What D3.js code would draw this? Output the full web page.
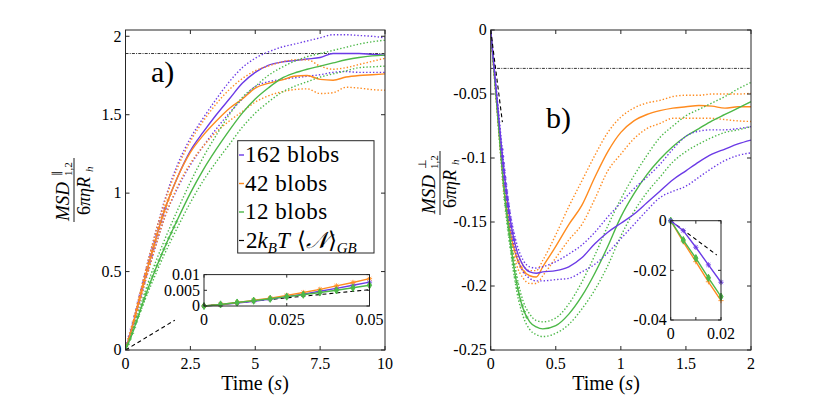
<!DOCTYPE html>
<html>
<head>
<meta charset="utf-8">
<script src="https://cdn.jsdelivr.net/npm/d3@7"></script>
<style>
  body { margin: 0; background: #fff; }
  svg { display: block; }
  #mainsvg text { font-family: "Times New Roman", "Liberation Serif", Times; }
</style>
</head>
<body>
<svg id="mainsvg" width="830" height="399"></svg>
<script>
// ---------- data ----------
const colPurple = "#6b3ae6";
const colOrange = "#ff8b1f";
const colGreen = "#4cb848";

// panel a: parallel MSD
const tA = [0, 0.25, 0.5, 0.75, 1, 1.5, 2, 2.5, 3, 3.5, 4, 4.5, 5, 5.5, 6, 6.5, 7, 7.5, 8, 8.5, 9, 9.5, 10];
const aPurple    = [0, 0.14, 0.30, 0.46, 0.61, 0.89, 1.10, 1.27, 1.39, 1.50, 1.60, 1.70, 1.77, 1.815, 1.835, 1.845, 1.855, 1.865, 1.89, 1.89, 1.89, 1.885, 1.88];
const aPurpleHi  = [0, 0.15, 0.32, 0.49, 0.65, 0.95, 1.18, 1.35, 1.48, 1.60, 1.71, 1.80, 1.86, 1.90, 1.93, 1.95, 1.97, 1.99, 2.01, 2.01, 2.005, 2.0, 1.99];
const aPurpleLo  = [0, 0.13, 0.28, 0.43, 0.57, 0.84, 1.03, 1.18, 1.30, 1.41, 1.51, 1.60, 1.68, 1.71, 1.725, 1.735, 1.745, 1.755, 1.77, 1.775, 1.77, 1.77, 1.77];
const aOrange    = [0, 0.14, 0.30, 0.46, 0.61, 0.89, 1.10, 1.26, 1.37, 1.46, 1.54, 1.60, 1.67, 1.70, 1.72, 1.745, 1.75, 1.725, 1.72, 1.74, 1.75, 1.755, 1.76];
const aOrangeHi  = [0, 0.15, 0.32, 0.49, 0.65, 0.94, 1.16, 1.33, 1.46, 1.57, 1.66, 1.73, 1.78, 1.81, 1.835, 1.85, 1.85, 1.81, 1.79, 1.80, 1.82, 1.84, 1.86];
const aOrangeLo  = [0, 0.13, 0.28, 0.43, 0.57, 0.84, 1.04, 1.19, 1.30, 1.39, 1.46, 1.52, 1.58, 1.62, 1.645, 1.66, 1.665, 1.635, 1.64, 1.675, 1.67, 1.66, 1.656];
const aGreen     = [0, 0.10, 0.22, 0.34, 0.45, 0.65, 0.83, 1.00, 1.15, 1.28, 1.40, 1.51, 1.60, 1.67, 1.73, 1.765, 1.79, 1.81, 1.83, 1.85, 1.865, 1.875, 1.88];
const aGreenHi   = [0, 0.11, 0.24, 0.37, 0.49, 0.70, 0.89, 1.07, 1.23, 1.37, 1.50, 1.61, 1.68, 1.75, 1.80, 1.84, 1.87, 1.89, 1.91, 1.93, 1.95, 1.965, 1.975];
const aGreenLo   = [0, 0.10, 0.21, 0.32, 0.42, 0.61, 0.78, 0.94, 1.08, 1.20, 1.31, 1.42, 1.51, 1.58, 1.64, 1.68, 1.71, 1.74, 1.76, 1.78, 1.80, 1.805, 1.81];
const aDashT = [0, 1.9];
const aDashV = [0, 0.19];
const aPlateau = 1.89;

// inset a
const tInA = [0, 0.005, 0.01, 0.015, 0.02, 0.025, 0.03, 0.035, 0.04, 0.045, 0.05];
const inAPurple = [0, 0.0004, 0.0009, 0.0015, 0.0022, 0.0030, 0.0038, 0.0047, 0.0056, 0.0066, 0.0076];
const inAOrange = [0, 0.0005, 0.0011, 0.0018, 0.0025, 0.0034, 0.0043, 0.0053, 0.0064, 0.0075, 0.0087];
const inAGreen  = [0, 0.0005, 0.0011, 0.0017, 0.0023, 0.0030, 0.0036, 0.0043, 0.0050, 0.0058, 0.0066];
const inADashT = [0, 0.05];
const inADashV = [0, 0.0052];

// panel b: perpendicular MSD
const tB = [0, 0.05, 0.1, 0.15, 0.2, 0.25, 0.3, 0.35, 0.4, 0.5, 0.6, 0.7, 0.8, 0.9, 1.0, 1.1, 1.2, 1.3, 1.4, 1.5, 1.6, 1.7, 1.8, 1.9, 2.0];
const bPurple   = [0, -0.055, -0.108, -0.148, -0.172, -0.184, -0.189, -0.190, -0.189, -0.188, -0.185, -0.178, -0.167, -0.158, -0.151, -0.144, -0.135, -0.126, -0.117, -0.110, -0.103, -0.097, -0.093, -0.089, -0.086];
const bPurpleHi = [0, -0.053, -0.104, -0.143, -0.167, -0.180, -0.185, -0.186, -0.185, -0.181, -0.175, -0.168, -0.158, -0.146, -0.135, -0.124, -0.115, -0.105, -0.093, -0.083, -0.079, -0.078, -0.078, -0.077, -0.0755];
const bPurpleLo = [0, -0.057, -0.112, -0.153, -0.177, -0.189, -0.194, -0.196, -0.196, -0.195, -0.194, -0.189, -0.183, -0.174, -0.163, -0.152, -0.141, -0.131, -0.126, -0.122, -0.115, -0.108, -0.102, -0.098, -0.096];
const bOrange   = [0, -0.062, -0.120, -0.158, -0.178, -0.188, -0.192, -0.193, -0.185, -0.169, -0.152, -0.137, -0.115, -0.095, -0.080, -0.071, -0.066, -0.063, -0.061, -0.060, -0.059, -0.0595, -0.061, -0.060, -0.060];
const bOrangeHi = [0, -0.060, -0.115, -0.153, -0.173, -0.184, -0.188, -0.188, -0.180, -0.160, -0.138, -0.118, -0.098, -0.080, -0.068, -0.061, -0.057, -0.055, -0.052, -0.051, -0.051, -0.050, -0.050, -0.050, -0.0495];
const bOrangeLo = [0, -0.064, -0.124, -0.163, -0.184, -0.194, -0.198, -0.198, -0.192, -0.178, -0.164, -0.152, -0.132, -0.110, -0.097, -0.085, -0.077, -0.073, -0.069, -0.069, -0.069, -0.069, -0.070, -0.071, -0.0715];
const bGreen    = [0, -0.062, -0.122, -0.165, -0.198, -0.218, -0.228, -0.232, -0.2335, -0.231, -0.222, -0.208, -0.190, -0.169, -0.146, -0.128, -0.113, -0.101, -0.091, -0.083, -0.077, -0.071, -0.066, -0.061, -0.056];
const bGreenHi  = [0, -0.060, -0.118, -0.160, -0.192, -0.212, -0.222, -0.227, -0.228, -0.225, -0.214, -0.197, -0.176, -0.153, -0.132, -0.114, -0.098, -0.084, -0.075, -0.067, -0.062, -0.057, -0.052, -0.046, -0.041];
const bGreenLo  = [0, -0.064, -0.126, -0.170, -0.204, -0.224, -0.234, -0.238, -0.2395, -0.237, -0.230, -0.218, -0.203, -0.184, -0.161, -0.142, -0.127, -0.115, -0.103, -0.095, -0.089, -0.084, -0.080, -0.078, -0.0755];
const bDashT = [0, 0.09];
const bDashV = [0, -0.072];
const bPlateau = -0.03;

// inset b
const tInB = [0, 0.005, 0.01, 0.015, 0.02];
const inBPurple = [0, -0.0040, -0.0107, -0.0178, -0.0248];
const inBOrange = [0, -0.0085, -0.0165, -0.0246, -0.0322];
const inBGreen  = [0, -0.0078, -0.0151, -0.0230, -0.0306];
const inBDashT = [0, 0.0183];
const inBDashV = [0, -0.0138];

const legendLabels = ["162 blobs", "42 blobs", "12 blobs"];

// tick values
const aXTicks = [0, 2.5, 5, 7.5, 10];
const aYTicks = [0, 0.5, 1, 1.5, 2];
const bXTicks = [0, 0.5, 1, 1.5, 2];
const bYTicks = [-0.25, -0.2, -0.15, -0.1, -0.05, 0];
const inAXTicks = [0, 0.025, 0.05];
const inAYTicks = [0, 0.005, 0.01];
const inBXTicks = [0, 0.01, 0.02];
const inBYTicks = [-0.04, -0.02, 0];

// ---------- drawing ----------
let svg = d3.select("#mainsvg");
const axisCol = "#262626";

function zip(t, v) { return t.map((d, i) => [d, v[i]]); }

function txt(g, x, y, fs) {
    return g.append("text").attr("x", x).attr("y", y).attr("font-size", fs).attr("fill", "#000");
}

// a box with ticks on all four sides (matlab "box on")
function drawAxes(g, x, y, xt, yt, opts) {
    let o = Object.assign({tick: 4, fs: 16, xfmt: d => String(d), yfmt: d => String(d)}, opts);
    let [x0, x1] = x.range();
    let [y0, y1] = y.range();
    g.append("rect").attr("x", x0).attr("y", y1).attr("width", x1 - x0).attr("height", y0 - y1)
        .attr("fill", "#fff").attr("stroke", "none");
    return function finish() {
        let fg = g.append("g");
        fg.append("rect").attr("x", x0).attr("y", y1).attr("width", x1 - x0).attr("height", y0 - y1)
            .attr("fill", "none").attr("stroke", axisCol).attr("stroke-width", 1);
        xt.forEach(d => {
            let px = x(d);
            fg.append("line").attr("x1", px).attr("x2", px).attr("y1", y0).attr("y2", y0 - o.tick).attr("stroke", axisCol);
            fg.append("line").attr("x1", px).attr("x2", px).attr("y1", y1).attr("y2", y1 + o.tick).attr("stroke", axisCol);
            let lab = o.xfmt(d);
            if (lab !== "") txt(fg, px, y0 + o.fs + 3, o.fs).attr("text-anchor", "middle").text(lab);
        });
        yt.forEach(d => {
            let py = y(d);
            fg.append("line").attr("x1", x0).attr("x2", x0 + o.tick).attr("y1", py).attr("y2", py).attr("stroke", axisCol);
            fg.append("line").attr("x1", x1).attr("x2", x1 - o.tick).attr("y1", py).attr("y2", py).attr("stroke", axisCol);
            let lab = o.yfmt(d);
            if (lab !== "") txt(fg, x0 - 4, py + o.fs * 0.33, o.fs).attr("text-anchor", "end").text(lab);
        });
    };
}

function drawMarker(g, type, px, py, col, s) {
    if (type === "plus" || type === "star") {
        g.append("line").attr("x1", px - s).attr("x2", px + s).attr("y1", py).attr("y2", py).attr("stroke", col).attr("stroke-width", 0.9);
        g.append("line").attr("x1", px).attr("x2", px).attr("y1", py - s).attr("y2", py + s).attr("stroke", col).attr("stroke-width", 0.9);
    }
    if (type === "star") {
        let k = s * 0.72;
        g.append("line").attr("x1", px - k).attr("x2", px + k).attr("y1", py - k).attr("y2", py + k).attr("stroke", col).attr("stroke-width", 0.9);
        g.append("line").attr("x1", px - k).attr("x2", px + k).attr("y1", py + k).attr("y2", py - k).attr("stroke", col).attr("stroke-width", 0.9);
    }
    if (type === "diamond") {
        g.append("path").attr("d", d3.symbol(d3.symbolDiamond, s * s * 2.2)())
            .attr("transform", `translate(${px},${py})`).attr("fill", col).attr("stroke", col);
    }
}

// one series: dotted bounds + solid mean, markers along the first stretch of the mean
function drawSeries(g, x, y, t, mean, hi, lo, col, mk) {
    let line = d3.line().x(d => x(d[0])).y(d => y(d[1])).curve(d3.curveMonotoneX);
    [hi, lo].forEach(b => {
        g.append("path").attr("d", line(zip(t, b))).attr("fill", "none").attr("stroke", col)
            .attr("stroke-width", 1.4).attr("stroke-dasharray", "1.4,2");
    });
    let p = g.append("path").attr("d", line(zip(t, mean))).attr("fill", "none").attr("stroke", col)
        .attr("stroke-width", 1.4);
    if (mk) {
        let node = p.node();
        for (let l = mk.from || 0; l <= mk.len; l += mk.step) {
            let pt = node.getPointAtLength(l);
            drawMarker(g, mk.type, pt.x, pt.y, col, 1.8);
        }
    }
}

function drawInsetSeries(g, x, y, t, v, col, type) {
    let line = d3.line().x(d => x(d[0])).y(d => y(d[1]));
    g.append("path").attr("d", line(zip(t, v))).attr("fill", "none").attr("stroke", col).attr("stroke-width", 1.4);
    t.forEach((d, i) => drawMarker(g, type, x(d), y(v[i]), col, 2.6));
}

function dashed(g, x, y, t, v) {
    let line = d3.line().x(d => x(d[0])).y(d => y(d[1]));
    g.append("path").attr("d", line(zip(t, v))).attr("fill", "none").attr("stroke", "#000")
        .attr("stroke-width", 1.1).attr("stroke-dasharray", "4,3");
}

function plateau(g, x, y, v) {
    let [x0, x1] = x.range();
    g.append("line").attr("x1", x0).attr("x2", x1).attr("y1", y(v)).attr("y2", y(v))
        .attr("stroke", "#000").attr("stroke-width", 0.8).attr("stroke-dasharray", "3,1.2,1,1.2");
}

// y label: stacked fraction, rotated
function yLabel(cx, cy, sym) {
    let g = svg.append("g").attr("transform", `translate(${cx},${cy}) rotate(-90)`);
    txt(g, -31, -5, 19).attr("font-style", "italic").text("MSD");
    txt(g, 14, -14, 11).text(sym);
    txt(g, 14, -2, 11).text("1,2");
    g.append("line").attr("x1", -32).attr("x2", 32).attr("y1", 0).attr("y2", 0).attr("stroke", "#000").attr("stroke-width", 0.9);
    let den = txt(g, -25, 16, 18);
    den.append("tspan").text("6");
    den.append("tspan").attr("font-style", "italic").text("πηR");
    txt(g, 18, 19, 11).attr("font-style", "italic").text("h");
}

function xLabel(cx, cy) {
    let t = txt(svg, cx, cy, 20).attr("text-anchor", "middle");
    t.append("tspan").text("Time (");
    t.append("tspan").attr("font-style", "italic").text("s");
    t.append("tspan").text(")");
}

// ---- panel a ----
let xa = d3.scaleLinear().domain([0, 10]).range([125.5, 385]);
let ya = d3.scaleLinear().domain([0, 2.04]).range([350, 30]);
let ga = svg.append("g").attr("id", "panel-a");
let finA = drawAxes(ga, xa, ya, aXTicks, aYTicks, {});
ga.append("clipPath").attr("id", "clip-a")
    .append("rect").attr("x", 125.5).attr("y", 30).attr("width", 385 - 125.5).attr("height", 320);
let curvesA = ga.append("g").attr("clip-path", "url(#clip-a)");
plateau(curvesA, xa, ya, aPlateau);
drawSeries(curvesA, xa, ya, tA, aPurple, aPurpleHi, aPurpleLo, colPurple, {type: "star", len: 150, step: 7});
drawSeries(curvesA, xa, ya, tA, aOrange, aOrangeHi, aOrangeLo, colOrange, {type: "plus", len: 165, step: 6});
drawSeries(curvesA, xa, ya, tA, aGreen, aGreenHi, aGreenLo, colGreen, {type: "plus", len: 140, step: 6});
dashed(curvesA, xa, ya, aDashT, aDashV);
finA();
xLabel(255, 390);
yLabel(74, 190, "\u2225");
txt(ga, 151, 82, 30).text("a)");

// inset a
let xia = d3.scaleLinear().domain([0, 0.05]).range([204, 369.5]);
let yia = d3.scaleLinear().domain([0, 0.01]).range([306, 274.6]);
let gia = svg.append("g").attr("id", "inset-a");
let finIA = drawAxes(gia, xia, yia, inAXTicks, inAYTicks, {tick: 3});
dashed(gia, xia, yia, inADashT, inADashV);
drawInsetSeries(gia, xia, yia, tInA, inAPurple, colPurple, "star");
drawInsetSeries(gia, xia, yia, tInA, inAOrange, colOrange, "star");
drawInsetSeries(gia, xia, yia, tInA, inAGreen, colGreen, "diamond");
finIA();

// legend
let lg = svg.append("g").attr("id", "legend");
lg.append("rect").attr("x", 237.7).attr("y", 140.7).attr("width", 136.3).attr("height", 112.3)
    .attr("fill", "#fff").attr("stroke", axisCol).attr("stroke-width", 1);
[colPurple, colOrange, colGreen].forEach((c, i) => {
    let yy = 155 + i * 28.5;
    lg.append("line").attr("x1", 239).attr("x2", 244).attr("y1", yy).attr("y2", yy).attr("stroke", c).attr("stroke-width", 1.4);
    txt(lg, 245, yy + 7, 23).style("letter-spacing", "0.5px").text(legendLabels[i]);
});
{
    let yy = 155 + 3 * 28.5;
    lg.append("line").attr("x1", 239).attr("x2", 244).attr("y1", yy).attr("y2", yy).attr("stroke", "#000").attr("stroke-width", 1.2);
    let t = txt(lg, 246, yy + 7, 23);
    t.append("tspan").text("2");
    t.append("tspan").attr("font-style", "italic").text("k");
    t.append("tspan").attr("font-style", "italic").attr("font-size", 15).attr("dy", 5).text("B");
    t.append("tspan").attr("font-style", "italic").attr("dy", -5).text("T");
    t.append("tspan").attr("dx", 7).text("\u27E8");
    t.append("tspan").attr("font-style", "italic").text("\u{1D4A9}");
    t.append("tspan").text("\u27E9");
    t.append("tspan").attr("font-style", "italic").attr("font-size", 15).attr("dy", 5).text("GB");
}

// ---- panel b ----
let xb = d3.scaleLinear().domain([0, 2]).range([490.7, 751]);
let yb = d3.scaleLinear().domain([-0.25, 0]).range([350, 30]);
let gb = svg.append("g").attr("id", "panel-b");
let finB = drawAxes(gb, xb, yb, bXTicks, bYTicks, {});
gb.append("clipPath").attr("id", "clip-b")
    .append("rect").attr("x", 490.7).attr("y", 30).attr("width", 751 - 490.7).attr("height", 320);
let curvesB = gb.append("g").attr("clip-path", "url(#clip-b)");
plateau(curvesB, xb, yb, bPlateau);
drawSeries(curvesB, xb, yb, tB, bOrange, bOrangeHi, bOrangeLo, colOrange, {type: "plus", from: 150, len: 250, step: 6});
drawSeries(curvesB, xb, yb, tB, bGreen, bGreenHi, bGreenLo, colGreen, {type: "plus", from: 170, len: 290, step: 6});
drawSeries(curvesB, xb, yb, tB, bPurple, bPurpleHi, bPurpleLo, colPurple, {type: "star", from: 120, len: 215, step: 7});
dashed(curvesB, xb, yb, bDashT, bDashV);
finB();
xLabel(606, 390);
yLabel(440, 183, "\u22A5");
txt(gb, 546, 128, 30).text("b)");

// inset b
let xib = d3.scaleLinear().domain([0, 0.02]).range([670.7, 721]);
let yib = d3.scaleLinear().domain([-0.04, 0]).range([320, 220.7]);
let gib = svg.append("g").attr("id", "inset-b");
let finIB = drawAxes(gib, xib, yib, inBXTicks, inBYTicks, {tick: 3, xfmt: d => d === 0.01 ? "" : String(d)});
dashed(gib, xib, yib, inBDashT, inBDashV);
drawInsetSeries(gib, xib, yib, tInB, inBOrange, colOrange, "plus");
drawInsetSeries(gib, xib, yib, tInB, inBGreen, colGreen, "diamond");
drawInsetSeries(gib, xib, yib, tInB, inBPurple, colPurple, "star");
finIB();
</script>
</body>
</html>
